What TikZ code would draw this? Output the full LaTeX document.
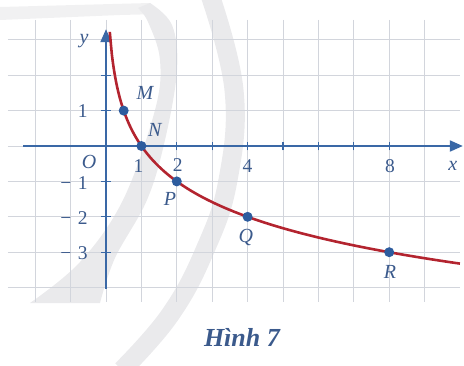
\documentclass[tikz,border=0pt]{standalone}
\usepackage{fontspec}
\setmainfont{Liberation Serif}
\usetikzlibrary{arrows.meta}
\definecolor{axisblue}{HTML}{3A68A6}
\definecolor{labelblue}{HTML}{3B5A8C}
\definecolor{curvered}{HTML}{B3242F}
\definecolor{dotblue}{HTML}{2D5C9E}
\definecolor{gridgray}{HTML}{D2D5DC}
\definecolor{wmgray}{HTML}{EAEAEC}
\definecolor{wmlight}{HTML}{F1F1F2}
\begin{document}
\begin{tikzpicture}[x=35.4pt,y=35.4pt,
  gridline/.style={draw=gridgray, line width=0.9pt},
  axisline/.style={draw=axisblue, line width=2pt, -{Triangle[length=13pt,width=11pt]}},
  tickmark/.style={draw=axisblue, line width=1.3pt},
  lbl/.style={text=labelblue, font=\fontsize{19.5}{19.5}\selectfont, inner sep=0pt},
  ptlbl/.style={text=labelblue, font=\fontsize{20}{20}\selectfont\itshape, inner sep=0pt},
  caplbl/.style={text=labelblue, font=\fontsize{26}{26}\selectfont\bfseries\itshape, inner sep=0pt},
  dot/.style={circle, fill=dotblue, inner sep=0pt, minimum size=10pt},
  curve/.style={draw=curvered, line width=2.6pt}]
\useasboundingbox (-2.9944,4.1243) rectangle (10.1130,-6.1864);
% watermark (pixel coordinates)
\begin{scope}[x=1pt,y=-1pt,shift={(-106pt,146pt)}]
  \fill[wmlight] (0,7) -- (150,3) -- (160,14) -- (120,15) -- (0,20) -- cycle;
  \draw[wmgray, line width=19pt] plot[smooth, tension=0.7] coordinates {(210,-5) (234,90) (228,180) (205,250) (170,315) (122,370)};
  \fill[wmgray] plot[smooth, tension=0.6] coordinates {(150,3) (172,25) (177,70) (165,140) (147,200) (115,258) (100,303)}
     -- plot[smooth, tension=0.6] coordinates {(30,303) (80,262) (123,200) (155,110) (160,60) (148,22) (138,8)} -- cycle;
\end{scope}
% grid
\foreach \i in {-2,...,9} \draw[gridline] (\i,3.56) -- (\i,-4.41);
\foreach \j in {-4,...,3} \draw[gridline] (-2.77,\j) -- (10.0,\j);
% axes
\coordinate (xs) at (-2.34,0);
\coordinate (xe) at (10.08,0);
\coordinate (ys) at (0,-4.04);
\coordinate (ye) at (0,3.30);
\draw[axisline] (xs) -- (xe);
\draw[axisline] (ys) -- (ye);
\foreach \i in {1,...,8} \draw[tickmark] (\i,-0.12) -- (\i,0.12);
\foreach \j in {-3,-2,-1,1,2} \draw[tickmark] (-0.14,\j) -- (0.14,\j);
% curve
\draw[curve] plot[domain=0.107:10, samples=160, smooth] (\x,{-ln(\x)/ln(2)});
% points
\node[dot] (M) at (0.5,1) {};
\node[dot] (N) at (1,0) {};
\node[dot] (P) at (2,-1) {};
\node[dot] (Q) at (4,-2) {};
\node[dot] (R) at (8,-3) {};
\node[ptlbl] (Ml) at (1.10,1.50) {M};
\node[ptlbl] (Nl) at (1.38,0.45) {N};
\node[ptlbl] (Pl) at (1.81,-1.50) {P};
\node[ptlbl] (Ql) at (3.95,-2.59) {Q};
\node[ptlbl] (Rl) at (8.02,-3.56) {R};
% axis labels
\node[ptlbl] (yl) at (-0.62,2.97) {y};
\node[ptlbl] (xl) at (9.80,-0.56) {x};
\node[ptlbl] (Ol) at (-0.48,-0.45) {O};
\node[lbl] (x1) at (0.92,-0.56) {1};
\node[lbl] (x2) at (2.03,-0.54) {2};
\node[lbl] (x4) at (4.00,-0.56) {4};
\node[lbl] (x8) at (8.02,-0.56) {8};
\node[lbl, anchor=east] (y1) at (-0.51,0.99) {1};
\node[lbl, anchor=east] (ym1) at (-0.51,-1.04) {−\,\,1};
\node[lbl, anchor=east] (ym2) at (-0.51,-2.03) {−\,\,2};
\node[lbl, anchor=east] (ym3) at (-0.51,-3.02) {−\,\,3};
% caption
\node[caplbl] (cap) at (3.84,-5.42) {Hình 7};
\end{tikzpicture}
\end{document}
